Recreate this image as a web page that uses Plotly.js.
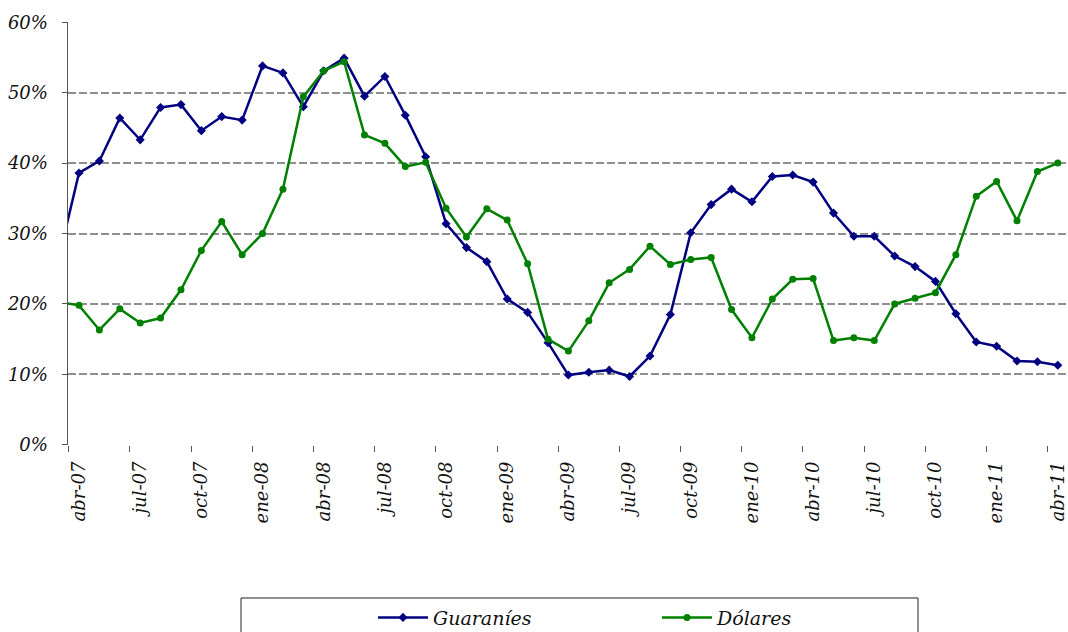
<!DOCTYPE html>
<html>
<head>
<meta charset="utf-8">
<script src="https://cdn.plot.ly/plotly-3.0.1.min.js"></script>
<style>html,body{margin:0;padding:0;background:#fff;}#chart{width:1068px;height:632px;}</style>
</head>
<body>
<div id="chart"></div>
<script>
const months = ["mar-07","abr-07","may-07","jun-07","jul-07","ago-07","sep-07","oct-07","nov-07","dic-07",
  "ene-08","feb-08","mar-08","abr-08","may-08","jun-08","jul-08","ago-08","sep-08","oct-08","nov-08","dic-08",
  "ene-09","feb-09","mar-09","abr-09","may-09","jun-09","jul-09","ago-09","sep-09","oct-09","nov-09","dic-09",
  "ene-10","feb-10","mar-10","abr-10","may-10","jun-10","jul-10","ago-10","sep-10","oct-10","nov-10","dic-10",
  "ene-11","feb-11","mar-11","abr-11"];

const guaranies = [26.4,
  38.6,40.3,46.4,43.3,47.9,48.3,44.6,46.6,46.1,
  53.8,52.8,48.0,53.1,54.9,49.5,52.3,46.8,40.9,31.4,28.0,26.0,
  20.7,18.8,14.5,9.9,10.3,10.6,9.7,12.6,18.5,30.1,34.1,36.3,
  34.5,38.1,38.3,37.3,32.9,29.6,29.6,26.8,25.3,23.2,18.6,14.6,
  14.0,11.9,11.8,11.3];

const dolares = [20.3,
  19.8,16.3,19.3,17.3,18.0,22.0,27.6,31.7,27.0,
  30.0,36.3,49.4,53.1,54.4,44.0,42.8,39.5,40.1,33.6,29.5,33.5,
  31.9,25.7,15.0,13.3,17.6,23.0,24.9,28.2,25.6,26.3,26.6,19.2,
  15.2,20.7,23.5,23.6,14.8,15.2,14.8,20.0,20.8,21.6,27.0,35.3,
  37.4,31.8,38.8,40.0];

const tickMonths = ["abr-07","jul-07","oct-07","ene-08","abr-08","jul-08","oct-08","ene-09","abr-09",
  "jul-09","oct-09","ene-10","abr-10","jul-10","oct-10","ene-11","abr-11"];

const yTicks = [0,10,20,30,40,50,60];

const serif = "DejaVu Serif";

const traces = [
  {x: months, y: guaranies, name: "Guaraníes", type: "scatter", mode: "lines+markers",
   line: {color: "#000080", width: 2.5}, marker: {symbol: "diamond", size: 7, color: "#000080"}},
  {x: months, y: dolares, name: "Dólares", type: "scatter", mode: "lines+markers",
   line: {color: "#008000", width: 2.5}, marker: {symbol: "circle", size: 7, color: "#008000"}}
];

const layout = {
  width: 1068, height: 632,
  margin: {l: 68, r: 0, t: 22, b: 187, autoexpand: false},
  paper_bgcolor: "#fff", plot_bgcolor: "#fff",
  showlegend: true,
  xaxis: {
    type: "category", categoryorder: "array", categoryarray: months,
    range: [0.46, 49.5],
    tickmode: "array", tickvals: tickMonths, ticktext: tickMonths,
    tickson: "boundaries",
    ticks: "outside", ticklen: 6, tickcolor: "#555", tickwidth: 1,
    tickangle: -90, ticklabelstandoff: 12,
    showgrid: false, showline: false, zeroline: false,
    tickfont: {family: serif, size: 18, color: "#111", style: "italic"}
  },
  yaxis: {
    range: [-0.03, 60.03], tickmode: "array", tickvals: yTicks,
    ticktext: yTicks.map(v => v + "%"),
    ticks: "outside", ticklen: 5, tickcolor: "#555",
    ticklabelstandoff: 10,
    showline: true, linecolor: "#555", linewidth: 1.5,
    showgrid: true, gridcolor: "#8f8f8f", gridwidth: 2, griddash: "8px,3px",
    zeroline: false,
    tickfont: {family: serif, size: 18, color: "#111", style: "italic"}
  },
  legend: {
    orientation: "h", x: 0.305, xanchor: "left", y: -0.363, yanchor: "top",
    bgcolor: "rgba(0,0,0,0)", borderwidth: 0,
    entrywidth: 219, entrywidthmode: "pixels", itemwidth: 50,
    font: {family: serif, size: 19, color: "#111", style: "italic"}
  },
  shapes: [{type: "rect", xref: "paper", yref: "paper", x0: 0.173, x1: 0.85, y0: -0.3617, y1: -0.5,
    line: {color: "#222", width: 1}, fillcolor: "rgba(0,0,0,0)", layer: "below"}]
};

Plotly.newPlot("chart", traces, layout, {displayModeBar: false, staticPlot: true});
</script>
</body>
</html>
